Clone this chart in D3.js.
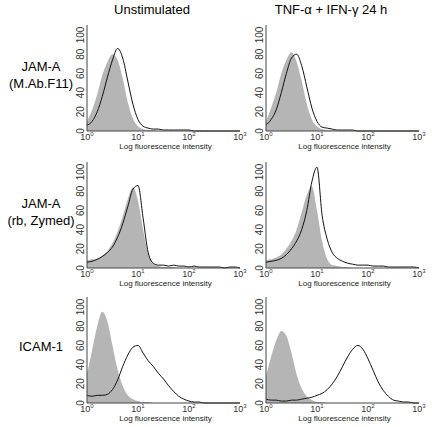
<!DOCTYPE html>
<html>
<head>
<script src="https://cdnjs.cloudflare.com/ajax/libs/d3/7.8.5/d3.min.js"></script>
<style>
  body { margin: 0; background: #fff; }
  text { font-family: "Liberation Sans", Arial, sans-serif; }
</style>
</head>
<body>
<div id="chart"></div>
<script>
// log10 bin positions, 0.1 decade steps from 10^0 to 10^3
var bins = d3.range(31).map(function(i) { return i / 10; });
var columns = ["Unstimulated", "TNF-\u03b1 + IFN-\u03b3 24 h"];
var rows = [["JAM-A", "(M.Ab.F11)"], ["JAM-A", "(rb, Zymed)"], ["ICAM-1"]];
var yTicks = [0, 20, 40, 60, 80, 100];
var xTicks = [0, 1, 2, 3];

// gray filled control histograms, [row][col]
var controlCounts = [
  [[10,22,38,58,72,80,74,55,30,13,5,2,1,1,0,0,0,0,0,0,0,0,0,0,0,0,0,0,0,0,0],
   [10,24,40,60,74,82,72,52,28,12,5,2,1,1,0,0,0,0,0,0,0,0,0,0,0,0,0,0,0,0,0]],
  [[8,9,10,13,18,26,38,54,72,84,70,40,15,5,2,1,1,1,0,0,0,0,0,0,0,0,0,0,0,0,0],
   [8,9,11,14,20,28,40,58,76,85,60,28,9,3,2,1,1,0,0,0,0,0,0,0,0,0,0,0,0,0,0]],
  [[30,55,80,95,85,60,35,18,8,4,2,1,1,0,0,0,0,0,0,0,0,0,0,0,0,0,0,0,0,0,0],
   [28,48,65,75,70,52,30,15,7,3,1,1,0,0,0,0,0,0,0,0,0,0,0,0,0,0,0,0,0,0,0]]
];
// black outline histograms, [row][col]
var stainCounts = [
  [[6,10,20,36,56,74,86,76,52,28,12,5,3,2,2,1,1,1,1,1,1,0,0,0,0,0,0,0,0,0,0],
   [6,12,22,40,60,76,80,68,46,24,10,4,3,2,1,1,1,1,0,0,0,0,0,0,0,0,0,0,0,0,0]],
  [[6,7,9,12,16,22,32,46,64,82,86,52,16,5,3,3,2,3,2,2,1,2,1,1,1,1,1,0,1,1,0],
   [6,7,8,10,14,20,28,40,60,90,105,55,30,16,10,7,5,4,3,3,3,2,2,2,1,1,1,1,1,1,0]],
  [[8,7,8,8,9,14,24,38,50,58,60,52,44,38,31,25,18,12,7,4,2,1,1,0,0,0,0,0,0,0,0],
   [4,3,3,2,2,3,3,4,5,6,8,10,14,20,28,38,48,56,60,56,46,34,22,13,7,3,2,1,1,0,0]]
];

var svg = d3.select("#chart").append("svg").attr("width", 432).attr("height", 427);

var colX = [87, 266];
var rowBase = [131, 268, 403];
var x = d3.scaleLinear().domain([0, 3]).range([0, 153]);
var y = d3.scaleLinear().domain([0, 100]).range([0, -96]);

columns.forEach(function(c, i) {
  svg.append("text").attr("x", colX[i] + 65).attr("y", 14)
    .attr("text-anchor", "middle").attr("font-size", 13).text(c);
});

rows.forEach(function(lbl, r) {
  var t = svg.append("text").attr("text-anchor", "middle").attr("font-size", 13)
    .attr("x", 41).attr("y", rowBase[r] - 52 - (lbl.length - 1) * 8);
  lbl.forEach(function(s, k) {
    t.append("tspan").attr("x", 41).attr("dy", k ? 17 : 0).text(s);
  });

  colX.forEach(function(cx, c) {
    var g = svg.append("g").attr("transform", "translate(" + cx + "," + rowBase[r] + ")");
    var area = d3.area().x(function(d, i) { return x(bins[i]); })
      .y0(0).y1(function(d) { return y(d); }).curve(d3.curveMonotoneX);
    var line = d3.line().x(function(d, i) { return x(bins[i]); })
      .y(function(d) { return y(d); }).curve(d3.curveMonotoneX);
    g.append("path").datum(controlCounts[r][c]).attr("d", area).attr("fill", "#b5b5b5");
    g.append("path").datum(stainCounts[r][c]).attr("d", line)
      .attr("fill", "none").attr("stroke", "#111").attr("stroke-width", 1);

    g.append("line").attr("x1", 0).attr("x2", 0).attr("y1", 0).attr("y2", -106)
      .attr("stroke", "#444");
    g.append("line").attr("x1", 0).attr("x2", x(3)).attr("y1", 0).attr("y2", 0)
      .attr("stroke", "#444");

    yTicks.forEach(function(v) {
      g.append("text").attr("font-size", 10).attr("fill", "#333")
        .attr("transform", "translate(-3," + y(v) + ") rotate(-90)")
        .attr("text-anchor", "middle").text(v);
    });
    xTicks.forEach(function(v) {
      var t = g.append("text").attr("x", x(v)).attr("y", 9).attr("font-size", 9)
        .attr("text-anchor", "middle").attr("fill", "#333");
      t.append("tspan").text("10");
      t.append("tspan").attr("font-size", 6).attr("dy", -4).text(v);
    });
    g.append("text").attr("x", x(1.5) + 2).attr("y", 18).attr("font-size", 8)
      .attr("text-anchor", "middle").attr("fill", "#222").text("Log fluorescence intensity");
  });
});
</script>
</body>
</html>
